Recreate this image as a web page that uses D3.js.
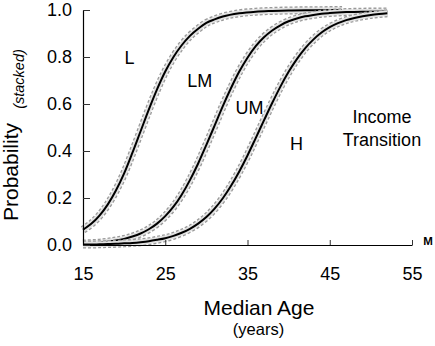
<!DOCTYPE html>
<html>
<head>
<meta charset="utf-8">
<script src="https://cdn.jsdelivr.net/npm/d3@7"></script>
<style>
  html, body { margin: 0; padding: 0; background: #fff; }
  svg { display: block; font-family: "Liberation Sans", Arial, sans-serif; }
</style>
</head>
<body>
<svg id="chart" width="435" height="346"></svg>
<script>
// ---- data ----
const xTicks = [15, 25, 35, 45, 55];
const yTicks = [0, 0.2, 0.4, 0.6, 0.8, 1.0];

// boundary L | LM (stacked probability of L)
const curveL = [
  [15, 0.065], [16, 0.090], [17, 0.125], [18, 0.172], [19, 0.232], [20, 0.305],
  [21, 0.392], [22, 0.484], [23, 0.576], [24, 0.662], [25, 0.738], [26, 0.800],
  [27, 0.850], [28, 0.890], [29, 0.920], [30, 0.945], [31, 0.960], [32, 0.972],
  [34, 0.986], [36, 0.993], [38, 0.996], [40, 0.998], [43, 0.999], [46.5, 1.0]
];
// boundary LM | UM
const curveLM = [
  [15, 0.006], [16, 0.008], [17, 0.010], [18, 0.014], [19, 0.019], [20, 0.026],
  [21, 0.036], [22, 0.049], [23, 0.067], [24, 0.091], [25, 0.123], [26, 0.163],
  [27, 0.214], [28, 0.276], [29, 0.347], [30, 0.426], [31, 0.508], [32, 0.591],
  [33, 0.668], [34, 0.738], [35, 0.797], [36, 0.846], [37, 0.884], [38, 0.913],
  [39, 0.935], [40, 0.952], [41, 0.964], [42, 0.973], [43, 0.979], [44, 0.984],
  [45, 0.987], [47, 0.991], [49, 0.993], [52, 0.994]
];
// boundary UM | H
const curveUM = [
  [15, 0.002], [16, 0.002], [17, 0.003], [18, 0.004], [19, 0.005], [20, 0.007],
  [21, 0.009], [22, 0.012], [23, 0.016], [24, 0.022], [25, 0.029], [26, 0.039],
  [27, 0.052], [28, 0.069], [29, 0.091], [30, 0.119], [31, 0.155], [32, 0.199],
  [33, 0.252], [34, 0.313], [35, 0.381], [36, 0.455], [37, 0.530], [38, 0.604],
  [39, 0.674], [40, 0.737], [41, 0.791], [42, 0.837], [43, 0.874], [44, 0.904],
  [45, 0.927], [46, 0.944], [47, 0.957], [48, 0.966], [49, 0.973], [50, 0.979],
  [51, 0.983], [52, 0.986]
];

const regionNames = ["L", "LM", "UM", "H"];
const annotation = ["Income", "Transition"];

// ---- layout ----
const svg = d3.select("#chart");
const x = d3.scaleLinear().domain([15, 55]).range([83, 412]);
const y = d3.scaleLinear().domain([0, 1]).range([245, 10]);

const line = d3.line().x(d => x(d[0])).y(d => y(d[1])).curve(d3.curveMonotoneX);

// curves with confidence band look
[curveL, curveLM, curveUM].forEach(c => {
  svg.append("path").attr("d", line(c)).attr("fill", "none")
    .attr("stroke", "#9a9a9a").attr("stroke-width", 8).attr("stroke-dasharray", "3,2");
  svg.append("path").attr("d", line(c)).attr("fill", "none")
    .attr("stroke", "#e2e2e2").attr("stroke-width", 5.5);
  svg.append("path").attr("d", line(c)).attr("fill", "none")
    .attr("stroke", "#000").attr("stroke-width", 2);
});

// axes
const xAxis = d3.axisBottom(x).tickValues(xTicks).tickSize(-5).tickSizeOuter(0)
  .tickPadding(22).tickFormat(d3.format("d"));
const gx = svg.append("g").attr("transform", "translate(0,245)").call(xAxis);
gx.select(".domain").attr("stroke", "#000").attr("stroke-width", 1.2);
gx.selectAll(".tick line").attr("stroke", "#333");
gx.selectAll("text").attr("font-size", 18).attr("fill", "#000")
  .attr("font-family", "Liberation Sans, Arial, sans-serif");

const yAxis = d3.axisLeft(y).tickValues(yTicks).tickSize(-7).tickSizeOuter(0)
  .tickPadding(11).tickFormat(d3.format(".1f"));
const gy = svg.append("g").attr("transform", "translate(83,0)").call(yAxis);
gy.select(".domain").attr("stroke", "#000").attr("stroke-width", 1.2);
gy.selectAll(".tick line").attr("stroke", "#333");
gy.selectAll("text").attr("font-size", 18).attr("fill", "#000")
  .attr("font-family", "Liberation Sans, Arial, sans-serif");

// small bold M at end of x axis
svg.append("text").attr("x", 428).attr("y", 245).attr("text-anchor", "middle")
  .attr("font-size", 11.5).attr("font-weight", "bold").text("M");

// region labels
const labelPos = [[20.65, 0.77], [29.2, 0.672], [35.25, 0.557], [40.96, 0.404]];
regionNames.forEach((t, i) => {
  svg.append("text").attr("x", x(labelPos[i][0])).attr("y", y(labelPos[i][1]))
    .attr("text-anchor", "middle").attr("font-size", 18).text(t);
});
const annPos = [[51.35, 0.519], [51.35, 0.421]];
annotation.forEach((t, i) => {
  svg.append("text").attr("x", x(annPos[i][0])).attr("y", y(annPos[i][1]))
    .attr("text-anchor", "middle").attr("font-size", 18).text(t);
});

// axis titles
svg.append("text").attr("x", 259).attr("y", 315).attr("text-anchor", "middle")
  .attr("font-size", 21).text("Median Age");
svg.append("text").attr("x", 258.5).attr("y", 335).attr("text-anchor", "middle")
  .attr("font-size", 16.5).text("(years)");
svg.append("text").attr("transform", "translate(18,172) rotate(-90)")
  .attr("text-anchor", "middle").attr("font-size", 21).text("Probability");
svg.append("text").attr("transform", "translate(24,79) rotate(-90)")
  .attr("text-anchor", "middle").attr("font-size", 14.5).attr("font-style", "italic").text("(stacked)");
</script>
</body>
</html>
